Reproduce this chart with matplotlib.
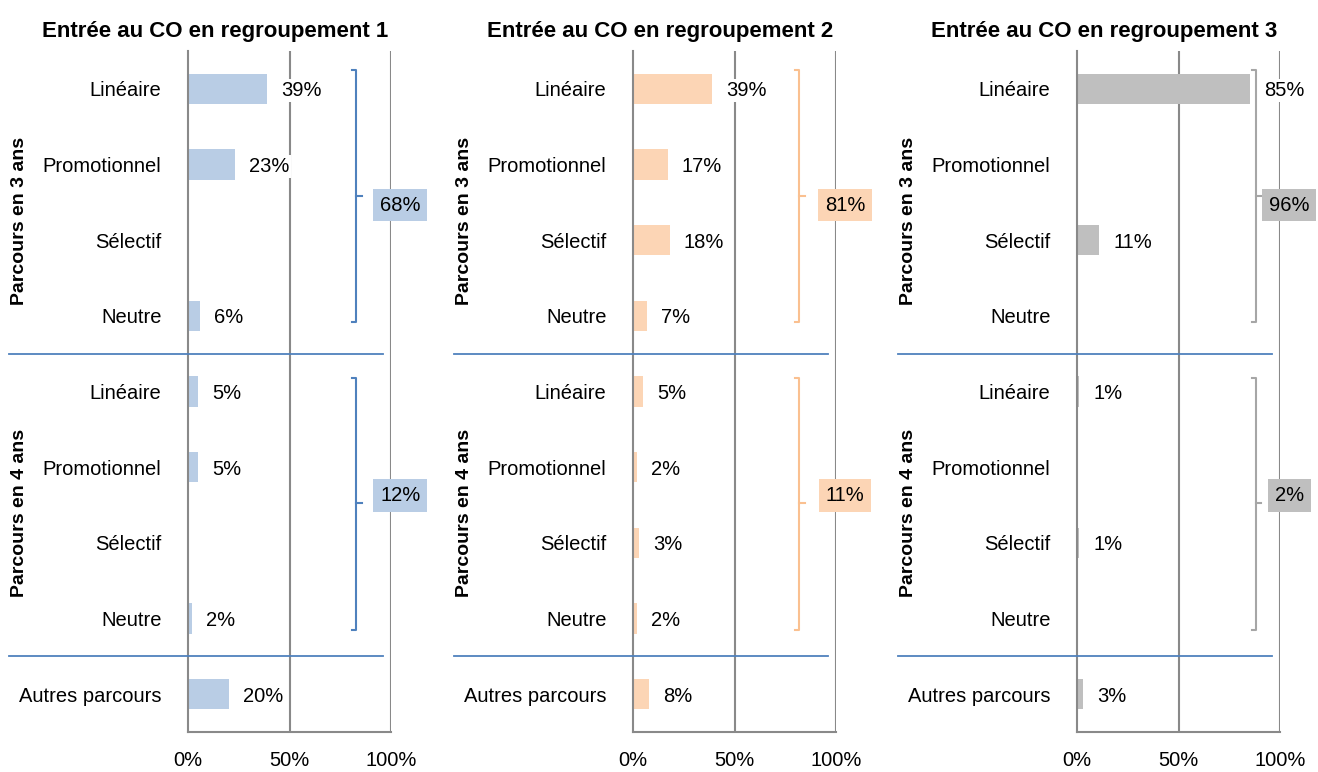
import numpy as np
import matplotlib
matplotlib.use('Agg')
import matplotlib.pyplot as plt

plt.rcParams['font.family'] = ['Liberation Sans Narrow', 'Liberation Sans', 'DejaVu Sans']

categories = ['Linéaire', 'Promotionnel', 'Sélectif', 'Neutre',
              'Linéaire', 'Promotionnel', 'Sélectif', 'Neutre',
              'Autres parcours']
titles = ['Entrée au CO en regroupement 1',
          'Entrée au CO en regroupement 2',
          'Entrée au CO en regroupement 3']
group_labels = ['Parcours en 3 ans', 'Parcours en 4 ans']

# None = pas de barre / pas d'étiquette
values_r1 = [39, 23, None, 6, 5, 5, None, 2, 20]
values_r2 = [39, 17, 18, 7, 5, 2, 3, 2, 8]
values_r3 = [85, None, 11, None, 1, None, 1, None, 3]
totals_r1 = [68, 12]
totals_r2 = [81, 11]
totals_r3 = [96, 2]

bar_colors = ['#B9CDE5', '#FCD5B5', '#BFBFBF']
brace_colors = ['#4F81BD', '#FAC090', '#A6A6A6']
brace_x = [83, 82, 88]
sep_color = '#4F81BD'
grid_color = '#898989'

panels = [(values_r1, totals_r1), (values_r2, totals_r2), (values_r3, totals_r3)]
lefts = [188, 633, 1077]

W, H = 1318, 772
fig = plt.figure(figsize=(W / 100, H / 100), dpi=100)

y = np.arange(len(categories))
for i, (vals, totals) in enumerate(panels):
    ax = fig.add_axes([lefts[i] / W, 1 - 732 / H, 203 / W, (732 - 51) / H])
    v = np.array([np.nan if a is None else a for a in vals], dtype=float)
    ax.barh(y, np.nan_to_num(v), height=0.4, color=bar_colors[i], zorder=2)
    for yy, a in zip(y, vals):
        if a is None:
            continue
        ax.text(a + 7, yy, f'{a}%', va='center_baseline', ha='left', fontsize=14.5, zorder=4,
                bbox=dict(facecolor='white', edgecolor='none', pad=1.5))

    ax.set_xlim(0, 100)
    ax.set_ylim(len(categories) - 0.5, -0.5)
    ax.set_xticks([0, 50, 100])
    ax.set_xticklabels(['0%', '50%', '100%'], fontsize=14.5)
    ax.set_yticks(y)
    ax.set_yticklabels(categories, fontsize=14.5)
    ax.tick_params(length=0, pad=14)
    ax.tick_params(axis='y', pad=19)
    for s in ['top', 'right']:
        ax.spines[s].set_visible(False)
    for s in ['left', 'bottom']:
        ax.spines[s].set_color(grid_color)
        ax.spines[s].set_linewidth(1.5)
    for gx in [50, 100]:
        ax.axvline(gx, color=grid_color, lw=1.5, zorder=1)

    # séparateurs de groupes
    for sy in [3.5, 7.5]:
        ax.plot([-88, 96], [sy, sy], color=sep_color, lw=1.3, clip_on=False, zorder=3)

    # accolades + totaux
    spans = [(-0.25, 3.08, 1.42, 1.51), (3.82, 7.15, 5.48, 5.35)]
    bx = brace_x[i]
    for (y0, y1, ym, yt), tot in zip(spans, totals):
        ax.plot([bx - 2, bx, bx, bx - 2], [y0, y0, y1, y1], color=brace_colors[i],
                lw=1.5, clip_on=False, zorder=3)
        ax.plot([bx, bx + 2.5], [ym, ym], color=brace_colors[i], lw=1.5,
                clip_on=False, zorder=3)
        ax.text(104.5, yt, f'{tot}%', ha='center', va='center_baseline', fontsize=14.5,
                zorder=5, bbox=dict(facecolor=bar_colors[i], edgecolor='none', pad=5))

    for gy, lab in zip([1.75, 5.6], group_labels):
        ax.text(-83, gy, lab, rotation=90, ha='center', va='center', fontsize=14,
                fontweight='bold', clip_on=False)

    ax.set_title(titles[i], x=0.133, ha='center', fontsize=16, fontweight='bold', pad=10)

fig.savefig('out.png', dpi=100)
